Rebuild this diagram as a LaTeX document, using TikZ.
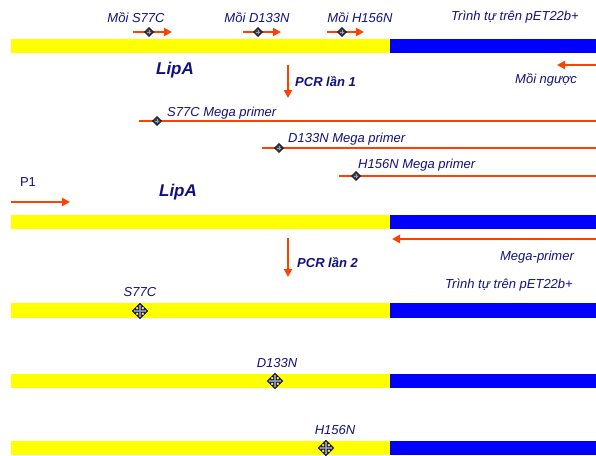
\documentclass[tikz,border=0pt]{standalone}
\usepackage{fontspec}
\setmainfont{Liberation Sans}
\definecolor{mtnavy}{RGB}{16,16,128}
\definecolor{mtyellow}{RGB}{255,255,0}
\definecolor{mtblue}{RGB}{0,0,255}
\definecolor{mtorange}{RGB}{255,64,0}
\definecolor{mtlav}{RGB}{150,150,230}
\usetikzlibrary{arrows.meta,positioning}

\begin{document}
\begin{tikzpicture}[
  x=1pt,y=-1pt,
  every node/.style={font=\fontsize{13}{15}\selectfont\itshape,text=mtnavy,inner sep=0pt},
  lippart/.style={fill=mtyellow},
  vecpart/.style={fill=mtblue},
  primer/.style={draw=mtorange,line width=2.6pt,-{Triangle[length=8pt,width=8pt]}},
  megaline/.style={draw=mtorange,line width=2.6pt},
  genelbl/.style={font=\fontsize{17}{19}\selectfont\bfseries\itshape},
  pcrlbl/.style={font=\fontsize{13}{15}\selectfont\bfseries\itshape},
  dot/.pic={\draw[fill=black!75,line width=0.5pt] (0,-4.5) -- (4.5,0) -- (0,4.5) -- (-4.5,0) -- cycle;
            \draw[mtlav,line width=0.7pt] (-2.2,0) -- (2.2,0) (0,-2.2) -- (0,2.2);},
  mutmark/.pic={\draw[fill=mtlav,line width=0.8pt]
      (0,-7.5) -- (3.2,-4.3) -- (1.3,-4.3) -- (1.3,-1.3) -- (4.3,-1.3) -- (4.3,-3.2) -- (7.5,0)
      -- (4.3,3.2) -- (4.3,1.3) -- (1.3,1.3) -- (1.3,4.3) -- (3.2,4.3) -- (0,7.5) -- (-3.2,4.3)
      -- (-1.3,4.3) -- (-1.3,1.3) -- (-4.3,1.3) -- (-4.3,3.2) -- (-7.5,0) -- (-4.3,-3.2)
      -- (-4.3,-1.3) -- (-1.3,-1.3) -- (-1.3,-4.3) -- (-3.2,-4.3) -- cycle;},
]
  \useasboundingbox (0,0) rectangle (596,455);

  % template with primers
  \fill[lippart] (11,39) rectangle (390,53);
  \fill[vecpart] (390,39) rectangle (596,53);
  \node (mS77C) at (136,18) {Mồi S77C};
  \node (mD133N) at (257,18) {Mồi D133N};
  \node (mH156N) at (360,18) {Mồi H156N};
  \node (vec1) at (515,17) {Trình tự trên pET22b+};
  \coordinate (pa1) at (133,32); \coordinate (pa2) at (172,32);
  \coordinate (pb1) at (243,32); \coordinate (pb2) at (281,32);
  \coordinate (pc1) at (327,32); \coordinate (pc2) at (364,32);
  \draw[primer] (pa1) -- (pa2);
  \draw[primer] (pb1) -- (pb2);
  \draw[primer] (pc1) -- (pc2);
  \pic at (149,32) {dot};
  \pic at (258,32) {dot};
  \pic at (342,32) {dot};
  \node[genelbl] (lip1) at (175,70) {LipA};

  % PCR 1
  \coordinate (p1top) at (288,65); \coordinate (p1bot) at (288,98);
  \draw[primer] (p1top) -- (p1bot);
  \node[pcrlbl,anchor=west] (pcr1) at (295,82) {PCR lần 1};
  \coordinate (rv1) at (596,65); \coordinate (rv2) at (557,65);
  \draw[primer] (rv1) -- (rv2);
  \node (rev) at (546,80) {Mồi ngược};

  % mega primers
  \coordinate (ma1) at (139,121); \coordinate (ma2) at (596,121);
  \coordinate (mb1) at (262,148); \coordinate (mb2) at (596,148);
  \coordinate (mc1) at (339,176); \coordinate (mc2) at (596,176);
  \draw[megaline] (ma1) -- (ma2);
  \draw[megaline] (mb1) -- (mb2);
  \draw[megaline] (mc1) -- (mc2);
  \pic at (157,121) {dot};
  \pic at (279,148) {dot};
  \pic at (356,176) {dot};
  \node[anchor=west] (megaA) at (167,113) {S77C Mega primer};
  \node[anchor=west] (megaB) at (288,139) {D133N Mega primer};
  \node[anchor=west] (megaC) at (358,165) {H156N Mega primer};

  % second template
  \node[font=\fontsize{13}{15}\selectfont] (pone) at (28,182) {P1};
  \coordinate (f1) at (11,202); \coordinate (f2) at (70,202);
  \draw[primer] (f1) -- (f2);
  \node[genelbl] (lip2) at (178,192) {LipA};
  \fill[lippart] (11,215) rectangle (390,229);
  \fill[vecpart] (390,215) rectangle (596,229);
  \coordinate (mg1) at (596,239); \coordinate (mg2) at (392,239);
  \draw[primer] (mg1) -- (mg2);
  \node (mega) at (537,257) {Mega-primer};

  % PCR 2
  \coordinate (p2top) at (288,238); \coordinate (p2bot) at (288,277);
  \draw[primer] (p2top) -- (p2bot);
  \node[pcrlbl,anchor=west] (pcr2) at (297,263) {PCR lần 2};
  \node (vec2) at (509,285) {Trình tự trên pET22b+};

  % mutants
  \fill[lippart] (11,303) rectangle (390,318);
  \fill[vecpart] (390,303) rectangle (596,318);
  \node (lS77C) at (140,292) {S77C};
  \pic at (140,311) {mutmark};

  \fill[lippart] (11,374) rectangle (390,388);
  \fill[vecpart] (390,374) rectangle (596,388);
  \node (lD133N) at (277,363) {D133N};
  \pic at (275,381) {mutmark};

  \fill[lippart] (11,441) rectangle (390,455);
  \fill[vecpart] (390,441) rectangle (596,455);
  \node (lH156N) at (335,430) {H156N};
  \pic at (326,448) {mutmark};
\end{tikzpicture}
\end{document}
